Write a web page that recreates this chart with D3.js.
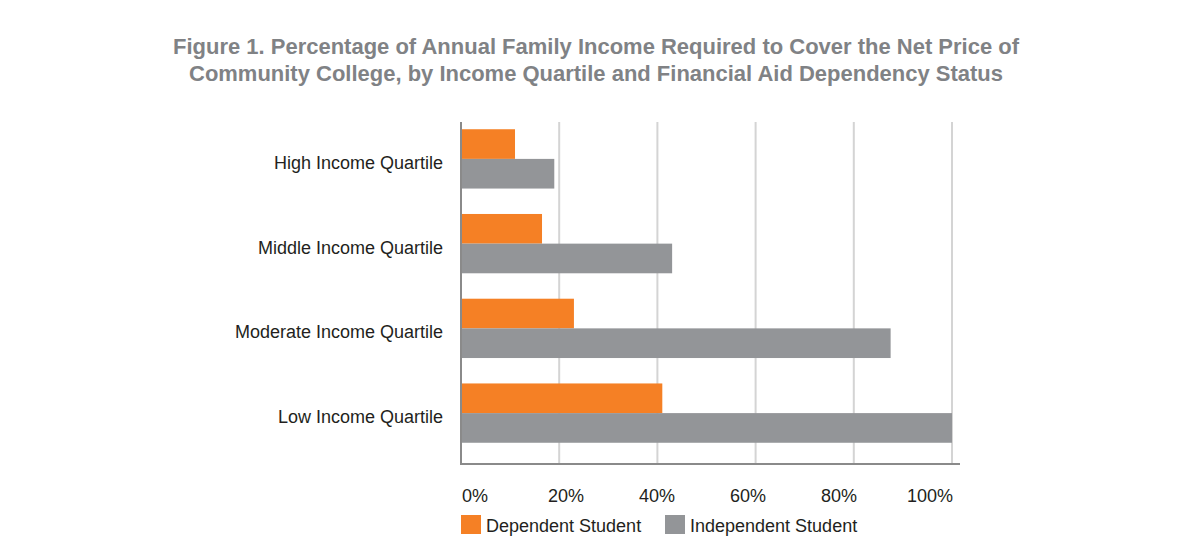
<!DOCTYPE html>
<html><head><meta charset="utf-8">
<script src="https://cdn.jsdelivr.net/npm/d3@7"></script>
<style>body{margin:0;background:#fff;font-family:"Liberation Sans",Arial,sans-serif;}</style>
</head><body>
<svg id="c" width="1182" height="541"></svg>
<script>
const categories = ["High Income Quartile","Middle Income Quartile","Moderate Income Quartile","Low Income Quartile"];
const seriesNames = ["Dependent Student","Independent Student"];
const dependent = [11, 16.5, 23, 41];
const independent = [19, 43, 87.5, 100];
const tickValues = [0,20,40,60,80,100];
const tickLabels = ["0%","20%","40%","60%","80%","100%"];
const colors = ["#f58025","#939598"];
const titleLines = ["Figure 1. Percentage of Annual Family Income Required to Cover the Net Price of","Community College, by Income Quartile and Financial Aid Dependency Status"];

const svg = d3.select("#c");
const ff = "'Liberation Sans', Arial, sans-serif";
const x0 = 461, x1 = 952, yTop = 122, yBot = 464;
const x = d3.scaleLinear().domain([0,100]).range([x0,x1]);
const y = d3.scaleBand().domain(categories).range([125,447]).paddingInner(0.3).paddingOuter(0.05);
const ySub = d3.scaleBand().domain(seriesNames).range([0,y.bandwidth()]);
const labelX = d3.scaleLinear().domain([0,100]).range([475,930]);

// title
svg.selectAll(".title").data(titleLines).join("text")
  .attr("x",596).attr("y",(d,i)=>54+i*27).attr("text-anchor","middle")
  .attr("font-family",ff).attr("font-size",21.5).attr("font-weight","bold").attr("fill","#808285")
  .attr("textLength",(d,i)=>i===0?846:814).attr("lengthAdjust","spacingAndGlyphs")
  .text(d=>d);

// gridlines
svg.selectAll(".grid").data(tickValues.slice(1)).join("line")
  .attr("x1",d=>x(d)).attr("x2",d=>x(d)).attr("y1",yTop).attr("y2",yBot)
  .attr("stroke","#d4d4d4").attr("stroke-width",2);

// bars
const data = categories.map((c,i)=>({cat:c, vals:[dependent[i],independent[i]]}));
const g = svg.selectAll(".grp").data(data).join("g").attr("transform",d=>`translate(0,${y(d.cat)})`);
g.selectAll("rect").data(d=>d.vals.map((v,j)=>({v,s:seriesNames[j],j}))).join("rect")
  .attr("x",x(0)).attr("y",d=>ySub(d.s)).attr("height",ySub.bandwidth())
  .attr("width",d=>x(d.v)-x(0)).attr("fill",d=>colors[d.j]);

// axes lines
svg.append("line").attr("x1",x0).attr("x2",x0).attr("y1",yTop).attr("y2",yBot+1).attr("stroke","#8a8a8a").attr("stroke-width",2);
svg.append("line").attr("x1",x0).attr("x2",960).attr("y1",yBot).attr("y2",yBot).attr("stroke","#8a8a8a").attr("stroke-width",2);

// category labels
svg.selectAll(".cl").data(categories).join("text")
  .attr("x",443).attr("y",d=>y(d)+y.bandwidth()/2+10).attr("text-anchor","end")
  .attr("font-family",ff).attr("font-size",18).attr("fill","#231f20").text(d=>d);

// tick labels
svg.selectAll(".tl").data(tickValues).join("text")
  .attr("x",d=>labelX(d)).attr("y",502).attr("text-anchor","middle")
  .attr("font-family",ff).attr("font-size",18).attr("fill","#231f20").text((d,i)=>tickLabels[i]);

// legend
const legX = [461,665];
const lg = svg.selectAll(".lg").data(seriesNames).join("g").attr("transform",(d,i)=>`translate(${legX[i]},515)`);
lg.append("rect").attr("width",20).attr("height",19).attr("fill",(d,i)=>colors[i]);
lg.append("text").attr("x",25).attr("y",17).attr("font-family",ff).attr("font-size",18).attr("fill","#231f20").text(d=>d);
</script>
</body></html>
